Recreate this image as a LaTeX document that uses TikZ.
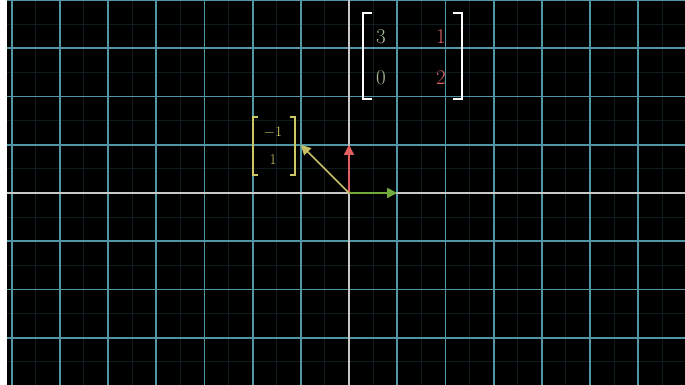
\documentclass[tikz,border=0pt]{standalone}
\usepackage{fontspec}
\usetikzlibrary{arrows.meta}
\definecolor{gridc}{RGB}{80,150,165}
\definecolor{subgridc}{RGB}{16,28,32}
\definecolor{axisc}{RGB}{200,200,200}
\definecolor{vyel}{RGB}{225,225,60}
\definecolor{vyelline}{RGB}{200,190,100}
\definecolor{vred}{RGB}{225,95,95}
\definecolor{vgreen}{RGB}{115,170,60}
\definecolor{colA}{RGB}{170,190,150}
\definecolor{colB}{RGB}{215,100,100}
\definecolor{ymat}{RGB}{205,200,100}
\tikzset{
  gridline/.style={draw=gridc, line width=1.8pt},
  subline/.style={draw=subgridc, line width=1pt},
  axisline/.style={draw=axisc, line width=1.6pt},
  vec/.style={line width=1.6pt, -{Triangle[length=10pt,width=10pt]}},
  bigent/.style={font=\fontsize{21}{21}\selectfont, inner sep=0pt},
  smallent/.style={font=\fontsize{15}{15}\selectfont, inner sep=0pt, text=ymat},
  bigbr/.style={draw=white, line width=2.2pt},
  smallbr/.style={draw=ymat, line width=1.8pt}
}
\begin{document}
\begin{tikzpicture}[x=1pt,y=-1pt]
\useasboundingbox (0,0) rectangle (685,385);
\fill[black] (0,0) rectangle (685,385);
% sub grid
\foreach \k in {-8,...,7} {
  \draw[subline] ({349+(\k+0.5)*48.2},0) -- ({349+(\k+0.5)*48.2},385);
}
\foreach \k in {-5,...,4} {
  \draw[subline] (0,{193+(\k+0.5)*48.2}) -- (685,{193+(\k+0.5)*48.2});
}
% main grid
\foreach \k in {-7,...,7} {
  \draw[gridline] ({349+\k*48.2},0) -- ({349+\k*48.2},385);
}
\foreach \k in {-4,...,4} {
  \draw[gridline] (0,{193+\k*48.2}) -- (685,{193+\k*48.2});
}
% axes
\draw[axisline] (349,0) -- (349,385);
\draw[axisline] (0,193) -- (685,193);
% left white strip
\fill[white] (0,0) rectangle (7,385);
% vectors
\coordinate (O) at (349,193);
\coordinate (E1) at (397.2,193);
\coordinate (E2) at (349,144.8);
\coordinate (V) at (300.8,144.8);
\draw[vec, draw=vgreen, fill=vgreen] (O) -- (E1);
\draw[vec, draw=vred, fill=vred] (O) -- (E2);
\draw[vec, draw=vyelline, fill=vyel] (O) -- (V);
% big matrix
\node[bigent, text=colA] (a11) at (381,37) {3};
\node[bigent, text=colB] (a12) at (441,37) {1};
\node[bigent, text=colA] (a21) at (381,78) {0};
\node[bigent, text=colB] (a22) at (441,78) {2};
\draw[bigbr] (372,13) -- (363,13) -- (363,99) -- (372,99);
\draw[bigbr] (453,13) -- (462,13) -- (462,99) -- (453,99);
% small matrix
\node[smallent] (b1) at (273,132) {$-1$};
\node[smallent] (b2) at (273,160) {1};
\draw[smallbr] (258,117) -- (253,117) -- (253,175) -- (258,175);
\draw[smallbr] (290,117) -- (295,117) -- (295,175) -- (290,175);
\end{tikzpicture}
\end{document}
